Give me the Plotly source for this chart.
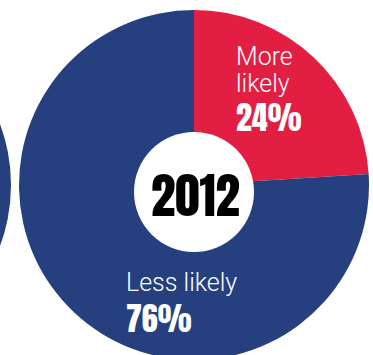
import plotly.graph_objects as go

# Survey answers for one year
year = "2012"
categories = ["More likely", "Less likely"]
shares = [24, 76]
colors = ["#E31E43", "#253F7F"]

W, H = 373, 362


def px(x):
    return x / W


def py(y):
    return (H - y) / H


fig = go.Figure()

fig.add_trace(go.Pie(
    labels=categories,
    values=shares,
    sort=False,
    direction="clockwise",
    rotation=0,
    hole=0.29,
    marker=dict(colors=colors, line=dict(width=0)),
    textinfo="none",
    hoverinfo="label+percent",
    showlegend=False,
    domain=dict(x=[px(19), px(369)], y=[py(360), py(10)]),
))

# edge of the neighbouring donut on the left
fig.add_shape(type="circle", xref="paper", yref="paper",
              x0=px(-164 - 175), x1=px(-164 + 175), y0=py(185 + 175), y1=py(185 - 175),
              fillcolor=colors[1], line_width=0, layer="below")
# white centre disc holding the year
fig.add_shape(type="circle", xref="paper", yref="paper",
              x0=px(134), x1=px(254), y0=py(252), y1=py(132),
              fillcolor="white", line_width=0, layer="above")

light = dict(family="Roboto", size=25, color="white", weight=300)
heavy = dict(family="Anton", size=32, color="white")

words_more = categories[0].split(" ")
fig.add_annotation(x=px(234), y=py(57), text=words_more[0].capitalize(), font=light)
fig.add_annotation(x=px(234), y=py(83), text=words_more[1], font=light)
fig.add_annotation(x=px(234), y=py(117), text=f"{shares[0]}%", font=heavy)

fig.add_annotation(x=px(124), y=py(282), text=categories[1], font=light)
fig.add_annotation(x=px(124), y=py(318), text=f"{shares[1]}%", font=heavy)

fig.add_annotation(x=px(195), y=py(195), text=year, xanchor="center",
                   font=dict(family="Anton", size=49, color="black"))

fig.update_annotations(xref="paper", yref="paper", showarrow=False, yanchor="middle")
for a in fig.layout.annotations[:-1]:
    a.xanchor = "left"

fig.update_layout(
    width=W, height=H,
    margin=dict(l=0, r=0, t=0, b=0),
    paper_bgcolor="white",
    plot_bgcolor="white",
)

fig.write_html(
    "out.html",
    post_script="document.documentElement.style.overflow='hidden';document.body.style.overflow='hidden';document.body.style.margin='0';",
)
